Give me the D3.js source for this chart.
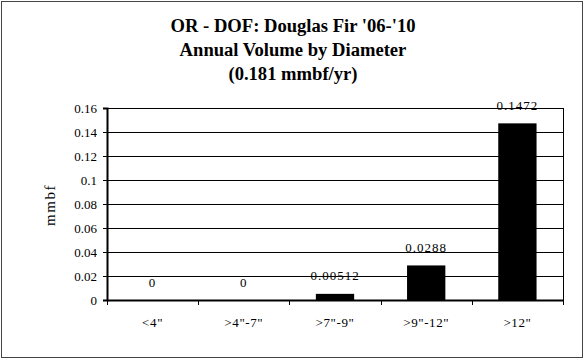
<!DOCTYPE html>
<html><head><meta charset="utf-8">
<script src="https://cdn.jsdelivr.net/npm/d3@7"></script>
<style>body{margin:0;background:#fff}svg{display:block}svg text{font-family:"Liberation Serif","Times New Roman",serif !important;fill:#000}</style>
</head><body>
<svg id="c" width="585" height="360"></svg>
<script>
const categories = ['<4"', '>4"-7"', '>7"-9"', '>9"-12"', '>12"'];
const values = [0, 0, 0.00512, 0.0288, 0.1472];
const valueLabels = ["0", "0", "0.00512", "0.0288", "0.1472"];
const yTicks = [0, 0.02, 0.04, 0.06, 0.08, 0.1, 0.12, 0.14, 0.16];
const titleLines = ["OR - DOF: Douglas Fir '06-'10", "Annual Volume by Diameter", "(0.181 mmbf/yr)"];

const svg = d3.select("#c");
svg.append("rect").attr("x",1.5).attr("y",1.5).attr("width",581).attr("height",356)
  .attr("fill","#fff").attr("stroke","#444").attr("stroke-width",1);

const L=107, R=563, T=108, B=300;
const x = d3.scaleBand().domain(categories).range([L,R]).paddingInner(0.58).paddingOuter(0.29);
const xb = d3.scaleBand().domain(categories).range([L,R]);
const y = d3.scaleLinear().domain([0,0.16]).range([B,T]);

// gridlines
svg.append("g").selectAll("line").data(yTicks.slice(1)).join("line")
  .attr("x1",L).attr("x2",R).attr("y1",d=>Math.round(y(d))+0.5).attr("y2",d=>Math.round(y(d))+0.5)
  .attr("stroke","#000").attr("stroke-width",1);
// right border
svg.append("line").attr("x1",R+0.5).attr("x2",R+0.5).attr("y1",T).attr("y2",B).attr("stroke","#000");

// bars
svg.append("g").selectAll("rect").data(values).join("rect")
  .attr("x",(d,i)=>x(categories[i])).attr("width",x.bandwidth())
  .attr("y",d=>y(d)).attr("height",d=>B-y(d)).attr("fill","#000");

// y axis
const ya = d3.axisLeft(y).tickValues(yTicks).tickSize(4).tickFormat(d=>String(+d.toFixed(2)));
const gy = svg.append("g").attr("transform",`translate(${L},0)`).call(ya);
gy.attr("font-family",null);
gy.select(".domain").attr("stroke-width",2);
gy.selectAll("text").attr("font-size",13).attr("x",-10);

// x axis
const gx = svg.append("g").attr("transform",`translate(0,${B})`);
gx.append("line").attr("x1",L).attr("x2",R+1).attr("y1",0.5).attr("y2",0.5).attr("stroke","#000").attr("stroke-width",2);
gx.selectAll("line.t").data(categories.concat(["end"])).join("line").attr("class","t")
  .attr("x1",(d,i)=>Math.round(L+i*xb.step())+0.5).attr("x2",(d,i)=>Math.round(L+i*xb.step())+0.5)
  .attr("y1",0).attr("y2",5).attr("stroke","#000");
gx.selectAll("text").data(categories).join("text")
  .attr("x",d=>xb(d)+xb.bandwidth()/2).attr("y",27).attr("text-anchor","middle")
  .attr("font-size",13).attr("letter-spacing",0.6).text(d=>d);

// value labels
svg.append("g").selectAll("text").data(values).join("text")
  .attr("x",(d,i)=>xb(categories[i])+xb.bandwidth()/2).attr("y",d=>y(d)-13.5)
  .attr("text-anchor","middle").attr("font-size",13).attr("letter-spacing",1).text((d,i)=>valueLabels[i]);

// y title
svg.append("text").attr("transform","translate(55,205) rotate(-90)").attr("text-anchor","middle")
  .attr("font-size",15).attr("letter-spacing",1.5).text("mmbf");

// title
svg.append("g").selectAll("text").data(titleLines).join("text")
  .attr("x",293).attr("y",(d,i)=>32+i*24).attr("text-anchor","middle")
  .attr("font-size",18.6).attr("font-weight","bold").text(d=>d);
</script>
</body></html>
